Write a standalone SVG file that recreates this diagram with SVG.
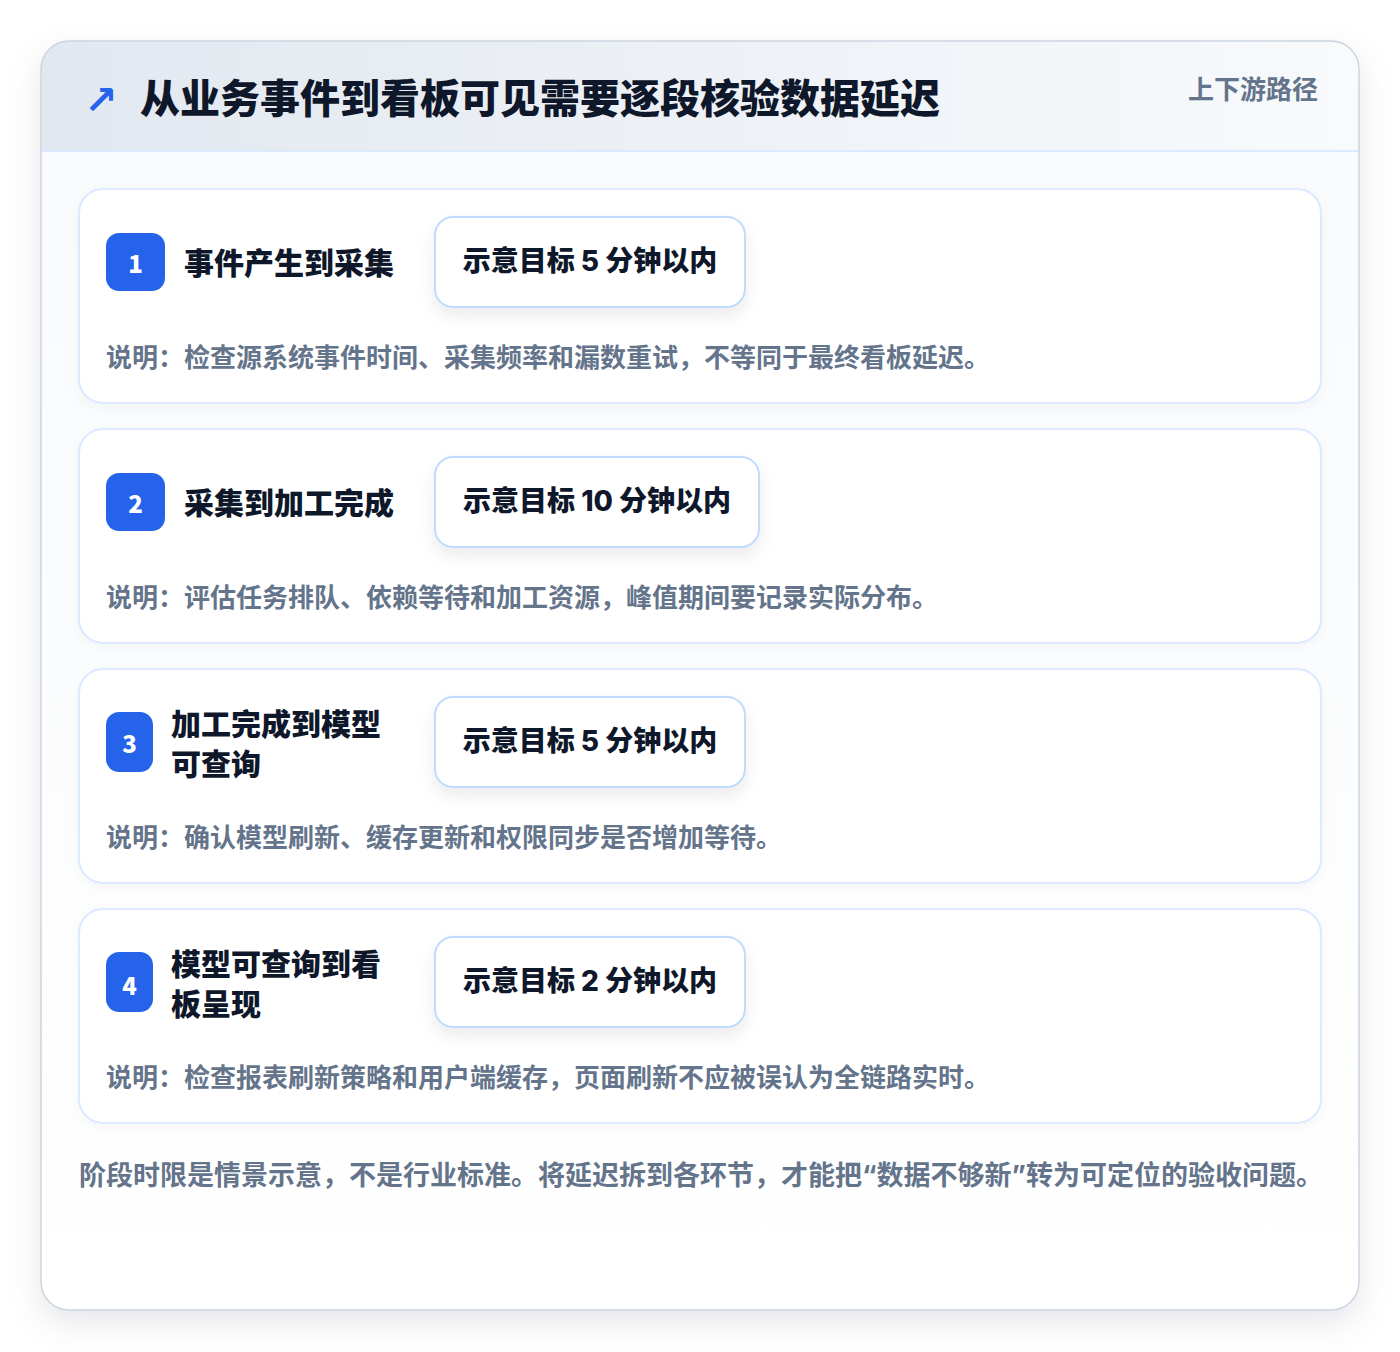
<svg xmlns="http://www.w3.org/2000/svg" width="1400" height="1352" viewBox="0 0 1400 1352">
<defs>
<style>
.cjk{font-family:"Inter","Noto Sans CJK SC","Noto Sans",sans-serif;}
.title{font-size:40px;font-weight:900;fill:#0f172a;}
.tag{font-size:26px;font-weight:700;fill:#64748b;}
.stitle{font-size:30px;font-weight:800;fill:#0f172a;}
.pilltxt{font-size:28px;font-weight:800;fill:#0f172a;}
.desc{font-size:26px;font-weight:700;fill:#64748b;}
.foot{font-size:27px;font-weight:700;fill:#64748b;}
.num{font-size:24px;font-weight:900;fill:#ffffff;font-family:"Noto Sans CJK SC","Inter",sans-serif;}
.card{fill:#ffffff;stroke:#dbeafe;stroke-width:2;}
.pill{fill:#ffffff;stroke:#bfdbfe;stroke-width:2;}
.badge{fill:#2563eb;}
</style>
<linearGradient id="hdr" x1="0" y1="0" x2="1" y2="0">
<stop offset="0" stop-color="#e2e8f0"/>
<stop offset="1" stop-color="#f8fafc"/>
</linearGradient>
<linearGradient id="body" x1="0" y1="0" x2="0" y2="1">
<stop offset="0" stop-color="#f8fafc"/>
<stop offset="1" stop-color="#ffffff"/>
</linearGradient>
<filter id="sh" x="-10%" y="-10%" width="120%" height="120%">
<feDropShadow dx="0" dy="12" stdDeviation="16" flood-color="#0f172a" flood-opacity="0.10"/>
</filter>
<filter id="psh" x="-20%" y="-30%" width="140%" height="180%">
<feDropShadow dx="0" dy="8" stdDeviation="8" flood-color="#0f172a" flood-opacity="0.08"/>
</filter>
<filter id="csh" x="-5%" y="-10%" width="110%" height="130%">
<feDropShadow dx="0" dy="4" stdDeviation="6" flood-color="#0f172a" flood-opacity="0.03"/>
</filter>
<clipPath id="outerClip"><rect x="41" y="41" width="1318" height="1269" rx="28"/></clipPath>
</defs>
<rect width="1400" height="1352" fill="#ffffff"/>
<g id="frame">
<rect x="41" y="41" width="1318" height="1269" rx="28" fill="url(#body)" filter="url(#sh)"/>
<g clip-path="url(#outerClip)">
<rect x="41" y="41" width="1318" height="110" fill="url(#hdr)"/>
<line x1="41" y1="151" x2="1359" y2="151" stroke="#dbeafe" stroke-width="2"/>
</g>
<rect x="41" y="41" width="1318" height="1269" rx="28" fill="none" stroke="#cbd5e1" stroke-width="1.5"/>
</g>
<g id="header">
<text x="84" y="100" font-family="DejaVu Sans, sans-serif" font-size="40" font-weight="700" fill="#2563eb" dominant-baseline="central">↗</text>
<text x="140" y="98" class="cjk title" dominant-baseline="central">从业务事件到看板可见需要逐段核验数据延迟</text>
<text x="1318" y="89" class="cjk tag" text-anchor="end" dominant-baseline="central">上下游路径</text>
</g>
<g id="stage1">
<rect x="79" y="189" width="1242" height="214" rx="24" class="card" filter="url(#csh)"/>
<rect x="106" y="233" width="59" height="58" rx="13" class="badge"/>
<text x="135.5" y="262" class="num" text-anchor="middle" dominant-baseline="central">1</text>
<text x="184" y="263" class="cjk stitle" dominant-baseline="central">事件产生到采集</text>
<rect x="435" y="217" width="310" height="90" rx="18" class="pill" filter="url(#psh)"/>
<text x="590" y="261" class="cjk pilltxt" text-anchor="middle" dominant-baseline="central">示意目标 5 分钟以内</text>
<text x="106" y="357" class="cjk desc" dominant-baseline="central">说明：检查源系统事件时间、采集频率和漏数重试，不等同于最终看板延迟。</text>
</g>
<g id="stage2">
<rect x="79" y="429" width="1242" height="214" rx="24" class="card" filter="url(#csh)"/>
<rect x="106" y="473" width="59" height="58" rx="13" class="badge"/>
<text x="135.5" y="502" class="num" text-anchor="middle" dominant-baseline="central">2</text>
<text x="184" y="503" class="cjk stitle" dominant-baseline="central">采集到加工完成</text>
<rect x="435" y="457" width="324" height="90" rx="18" class="pill" filter="url(#psh)"/>
<text x="597" y="501" class="cjk pilltxt" text-anchor="middle" dominant-baseline="central">示意目标 10 分钟以内</text>
<text x="106" y="597" class="cjk desc" dominant-baseline="central">说明：评估任务排队、依赖等待和加工资源，峰值期间要记录实际分布。</text>
</g>
<g id="stage3">
<rect x="79" y="669" width="1242" height="214" rx="24" class="card" filter="url(#csh)"/>
<rect x="106" y="712" width="47" height="60" rx="13" class="badge"/>
<text x="129.5" y="742" class="num" text-anchor="middle" dominant-baseline="central">3</text>
<text x="171" y="724" class="cjk stitle" dominant-baseline="central">加工完成到模型</text>
<text x="171" y="764" class="cjk stitle" dominant-baseline="central">可查询</text>
<rect x="435" y="697" width="310" height="90" rx="18" class="pill" filter="url(#psh)"/>
<text x="590" y="741" class="cjk pilltxt" text-anchor="middle" dominant-baseline="central">示意目标 5 分钟以内</text>
<text x="106" y="837" class="cjk desc" dominant-baseline="central">说明：确认模型刷新、缓存更新和权限同步是否增加等待。</text>
</g>
<g id="stage4">
<rect x="79" y="909" width="1242" height="214" rx="24" class="card" filter="url(#csh)"/>
<rect x="106" y="952" width="47" height="60" rx="13" class="badge"/>
<text x="129.5" y="984" class="num" text-anchor="middle" dominant-baseline="central">4</text>
<text x="171" y="964" class="cjk stitle" dominant-baseline="central">模型可查询到看</text>
<text x="171" y="1004" class="cjk stitle" dominant-baseline="central">板呈现</text>
<rect x="435" y="937" width="310" height="90" rx="18" class="pill" filter="url(#psh)"/>
<text x="590" y="981" class="cjk pilltxt" text-anchor="middle" dominant-baseline="central">示意目标 2 分钟以内</text>
<text x="106" y="1077" class="cjk desc" dominant-baseline="central">说明：检查报表刷新策略和用户端缓存，页面刷新不应被误认为全链路实时。</text>
</g>
<g id="connectors"></g>
<g id="footer">
<text x="79" y="1175" class="cjk foot" dominant-baseline="central">阶段时限是情景示意，不是行业标准。将延迟拆到各环节，才能把“数据不够新”转为可定位的验收问题。</text>
</g>
</svg>
